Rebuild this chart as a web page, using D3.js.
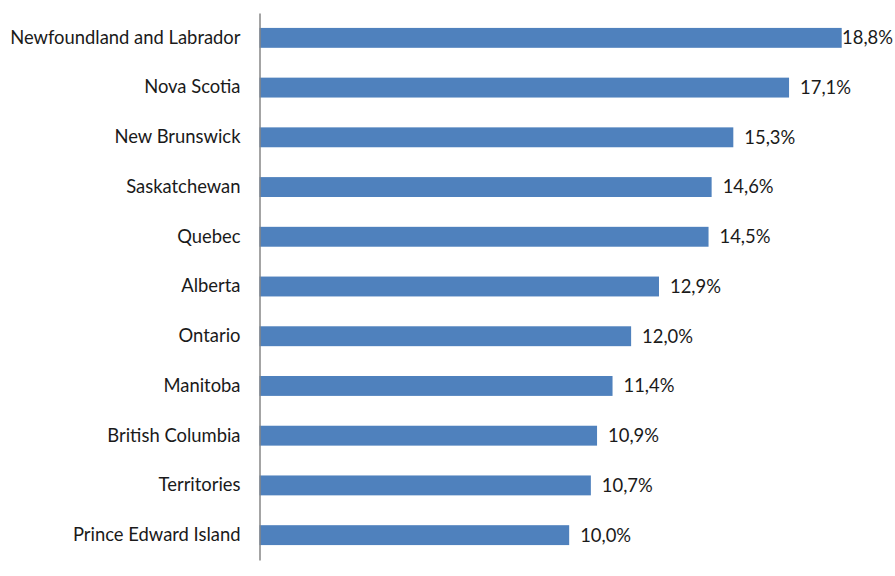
<!DOCTYPE html>
<html><head><meta charset="utf-8">
<script src="https://cdn.jsdelivr.net/npm/d3@7"></script>
<style>body{margin:0;background:#fff}svg{display:block}text{font-family:Lato,"Open Sans",sans-serif;fill:#1a1a1a}</style>
</head><body><svg id="c" width="895" height="576"></svg>
<script>
const categories = ["Newfoundland and Labrador","Nova Scotia","New Brunswick","Saskatchewan","Quebec","Alberta","Ontario","Manitoba","British Columbia","Territories","Prince Edward Island"];
const values = [18.8,17.1,15.3,14.6,14.5,12.9,12.0,11.4,10.9,10.7,10.0];
const valueLabels = ["18,8%","17,1%","15,3%","14,6%","14,5%","12,9%","12,0%","11,4%","10,9%","10,7%","10,0%"];

const W = 895, H = 576;
const FS = 18.4;
const svg = d3.select("#c");
const x = d3.scaleLinear().domain([0, 18.8]).range([259.5, 841.7]);
const y = d3.scaleBand().domain(categories).range([13, 560]).paddingInner(0.6).paddingOuter(0.3);

svg.selectAll("rect.bar").data(values).join("rect").attr("class","bar")
  .attr("x", x(0)).attr("y", (d,i)=>y(categories[i]))
  .attr("width", d=>x(d)-x(0)).attr("height", y.bandwidth())
  .attr("fill","#4f81bd");

const yAxis = svg.append("g").attr("transform",`translate(${x(0)},0)`).call(d3.axisLeft(y).tickSize(0).tickPadding(19));
yAxis.select(".domain").attr("stroke","#868686").attr("stroke-width",1.5);
yAxis.selectAll("text").attr("font-size",FS).style("font-family","Lato,'Open Sans',sans-serif").attr("fill","#1a1a1a");

svg.selectAll("text.val").data(values).join("text").attr("class","val")
  .attr("y",(d,i)=>y(categories[i])+y.bandwidth()/2).attr("dy","0.35em")
  .attr("font-size",FS).text((d,i)=>valueLabels[i])
  .attr("x",function(d){const w=this.getComputedTextLength();return Math.min(x(d)+11, W-2-w);});
</script></body></html>
